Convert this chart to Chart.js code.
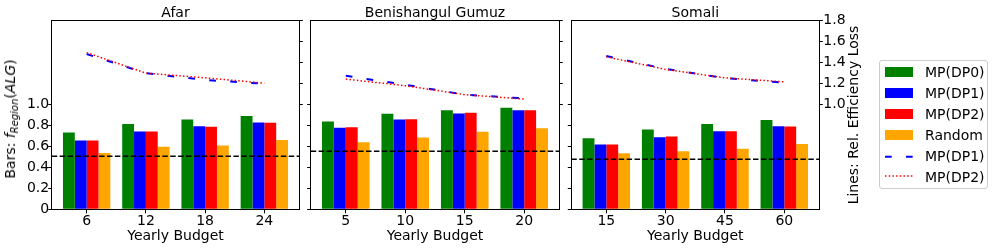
<!DOCTYPE html>
<html><head><meta charset="utf-8">
<script src="https://cdn.jsdelivr.net/npm/chart.js@4.4.1/dist/chart.umd.min.js"></script>
<style>
html,body{margin:0;padding:0;background:#fff;}
#wrap{position:relative;width:996px;height:250px;overflow:hidden;font-family:"DejaVu Sans",sans-serif;color:#000;}
canvas{position:absolute;left:0;top:0;}
.t{position:absolute;font-size:14px;line-height:14px;white-space:nowrap;}
.c{transform:translateX(-50%);}
.rot{transform:translate(-50%,-50%) rotate(-90deg);}
.patch{position:absolute;width:28px;height:10px;}
</style></head><body>
<div id="wrap">
<canvas id="c0" width="996" height="250"></canvas>
<canvas id="c1" width="996" height="250"></canvas>
<canvas id="c2" width="996" height="250"></canvas>
<div class="t c" id="t0" style="top:4.8px">Afar</div>
<div class="t c" id="t1" style="top:4.8px">Benishangul Gumuz</div>
<div class="t c" id="t2" style="top:4.8px">Somali</div>
<div class="t rot" style="left:10.5px;top:118.5px">Bars: <i>f</i><span style="font-size:10px;font-style:italic;position:relative;top:3px">Region</span>(<i>ALG</i>)</div>
<div class="t rot" style="left:853px;top:114.5px">Lines: Rel. Efficiency Loss</div>
<div style="position:absolute;left:879px;top:60px;width:109px;height:129px;border:1px solid #ccc;border-radius:3px;box-sizing:border-box;background:rgba(255,255,255,0.8)"></div>
<div class="patch" style="left:885px;top:67px;background:#008000"></div>
<div class="patch" style="left:885px;top:88px;background:#0000ff"></div>
<div class="patch" style="left:885px;top:109px;background:#ff0000"></div>
<div class="patch" style="left:885px;top:130px;background:#ffa500"></div>
<svg style="position:absolute;left:885px;top:150px" width="28" height="30">
<line x1="0" y1="6.7" x2="28" y2="6.7" stroke="#0000ff" stroke-width="2" stroke-dasharray="6.7 14.3"/>
<line x1="0" y1="26" x2="28" y2="26" stroke="#ff0000" stroke-width="1.5" stroke-dasharray="1.5 2.2"/>
</svg>
<div class="t" style="left:925px;top:65.1px">MP(DP0)</div>
<div class="t" style="left:925px;top:86.1px">MP(DP1)</div>
<div class="t" style="left:925px;top:107.1px">MP(DP2)</div>
<div class="t" style="left:925px;top:128.1px">Random</div>
<div class="t" style="left:925px;top:149.1px">MP(DP1)</div>
<div class="t" style="left:925px;top:170.1px">MP(DP2)</div>
</div>
<script>
// ---- data ----
const regions = ["Afar", "Benishangul Gumuz", "Somali"];
const budgetsAfar = ["6", "12", "18", "24"];
const budgetsBen = ["5", "10", "15", "20"];
const budgetsSom = ["15", "30", "45", "60"];

const dp0Afar = [0.730, 0.810, 0.854, 0.886];
const dp1Afar = [0.655, 0.740, 0.790, 0.826];
const dp2Afar = [0.655, 0.740, 0.784, 0.822];
const randAfar = [0.536, 0.594, 0.607, 0.660];
const lossDp1Afar = [1.476, 1.295, 1.229, 1.194];
const lossDp2Afar = [1.490, 1.295, 1.250, 1.200];
const baseAfar = 0.505;

const dp0Ben = [0.835, 0.908, 0.943, 0.965];
const dp1Ben = [0.775, 0.854, 0.911, 0.943];
const dp2Ben = [0.781, 0.857, 0.917, 0.943];
const randBen = [0.638, 0.683, 0.737, 0.771];
const lossDp1Ben = [1.270, 1.184, 1.090, 1.054];
const lossDp2Ben = [1.238, 1.175, 1.090, 1.048];
const baseBen = 0.552;

const dp0Som = [0.676, 0.759, 0.810, 0.848];
const dp1Som = [0.616, 0.686, 0.743, 0.790];
const dp2Som = [0.616, 0.692, 0.743, 0.787];
const randSom = [0.533, 0.552, 0.575, 0.622];
const lossDp1Som = [1.457, 1.335, 1.248, 1.203];
const lossDp2Som = [1.450, 1.330, 1.250, 1.212];
const baseSom = 0.476;

const leftTicks = [0, 0.2, 0.4, 0.6, 0.8, 1.0];
const rightTicks = [1.0, 1.2, 1.4, 1.6, 1.8];
const yMin = 0, yMax = 1.8;

// ---- layout ----
const panels = [[51.7, 299.3], [310.7, 559.3], [571.3, 819.3]];
const plotTop = 20, plotBottom = 209.3;
const AXW = 45, XAH = 36;
const xMin = -0.59, xMax = 3.59;
const FONT = {family: "DejaVu Sans", size: 14};

Chart.defaults.font.family = "DejaVu Sans";
Chart.defaults.color = "#000";

const frame = {
  id: "frame",
  afterDatasetsDraw(chart) {
    const a = chart.chartArea, ctx = chart.ctx;
    ctx.save();
    ctx.strokeStyle = "#000";
    ctx.lineWidth = 1;
    ctx.strokeRect(Math.floor(a.left) + 0.5, Math.floor(a.top) + 0.5,
                   Math.round(a.right - a.left), Math.round(a.bottom - a.top));
    ctx.restore();
  }
};

const fmt = v => (Math.abs(v) < 1e-9 ? "0" : v.toFixed(1));

function makeChart(k, labels, dp0, dp1, dp2, rnd, l1, l2, base) {
  const [L, R] = panels[k];
  const t = document.getElementById("t" + k);
  t.style.left = ((L + R) / 2) + "px";
  const pts = arr => arr.map((v, i) => ({x: i, y: v}));
  const idx = labels.map((_, i) => i);
  new Chart(document.getElementById("c" + k), {
    type: "bar",
    data: {
      datasets: [
        {type: "line", label: "MP(DP2)", data: pts(l2), yAxisID: "y2", borderColor: "#ff0000",
         borderWidth: 1.5, borderDash: [1.5, 2.2], pointRadius: 0, tension: 0, order: 0},
        {type: "line", label: "MP(DP1)", data: pts(l1), yAxisID: "y2", borderColor: "#0000ff",
         borderWidth: 2, borderDash: [6.7, 14.3], pointRadius: 0, tension: 0, order: 1},
        {type: "line", label: "base", data: [{x: xMin, y: base}, {x: xMax, y: base}], yAxisID: "y",
         borderColor: "#000", borderWidth: 1.5, borderDash: [5.5, 2.4], pointRadius: 0, order: 2},
        {label: "MP(DP0)", data: pts(dp0), backgroundColor: "#008000", yAxisID: "y", order: 3},
        {label: "MP(DP1)", data: pts(dp1), backgroundColor: "#0000ff", yAxisID: "y", order: 3},
        {label: "MP(DP2)", data: pts(dp2), backgroundColor: "#ff0000", yAxisID: "y", order: 3},
        {label: "Random", data: pts(rnd), backgroundColor: "#ffa500", yAxisID: "y", order: 3}
      ]
    },
    options: {
      responsive: false, animation: false, devicePixelRatio: 1,
      categoryPercentage: 0.8, barPercentage: 1.0,
      layout: {padding: {left: L - AXW, right: 996 - R - AXW, top: plotTop, bottom: 250 - plotBottom - XAH}},
      plugins: {legend: {display: false}, tooltip: {enabled: false}, title: {display: false}},
      scales: {
        x: {
          type: "linear", min: xMin, max: xMax, offset: false,
          afterBuildTicks: s => { s.ticks = idx.map(v => ({value: v})); },
          ticks: {callback: v => labels[v], font: FONT, color: "#000", padding: 0, maxRotation: 0, autoSkip: false},
          grid: {offset: false, drawOnChartArea: false, drawTicks: true, tickLength: 4, color: "#000"},
          border: {display: false},
          title: {display: true, text: "Yearly Budget", font: FONT, color: "#000", padding: {top: 0, bottom: 1}},
          afterFit: s => { s.height = XAH; }
        },
        y: {
          position: "left", min: yMin, max: yMax,
          afterBuildTicks: s => { s.ticks = leftTicks.map(v => ({value: v})); },
          ticks: {display: k === 0, callback: v => fmt(v), font: FONT, color: "#000", padding: -1},
          grid: {drawOnChartArea: false, drawTicks: true, tickLength: 3.5, color: "#000"},
          border: {display: false},
          afterFit: s => { s.width = AXW; }
        },
        y2: {
          position: "right", min: yMin, max: yMax,
          afterBuildTicks: s => { s.ticks = rightTicks.map(v => ({value: v})); },
          ticks: {display: k === 2, callback: v => fmt(v), font: FONT, color: "#000", padding: 0.5},
          grid: {drawOnChartArea: false, drawTicks: true, tickLength: 3.5, color: "#000"},
          border: {display: false},
          afterFit: s => { s.width = AXW; }
        }
      }
    },
    plugins: [frame]
  });
}

makeChart(0, budgetsAfar, dp0Afar, dp1Afar, dp2Afar, randAfar, lossDp1Afar, lossDp2Afar, baseAfar);
makeChart(1, budgetsBen, dp0Ben, dp1Ben, dp2Ben, randBen, lossDp1Ben, lossDp2Ben, baseBen);
makeChart(2, budgetsSom, dp0Som, dp1Som, dp2Som, randSom, lossDp1Som, lossDp2Som, baseSom);
</script>
</body></html>
